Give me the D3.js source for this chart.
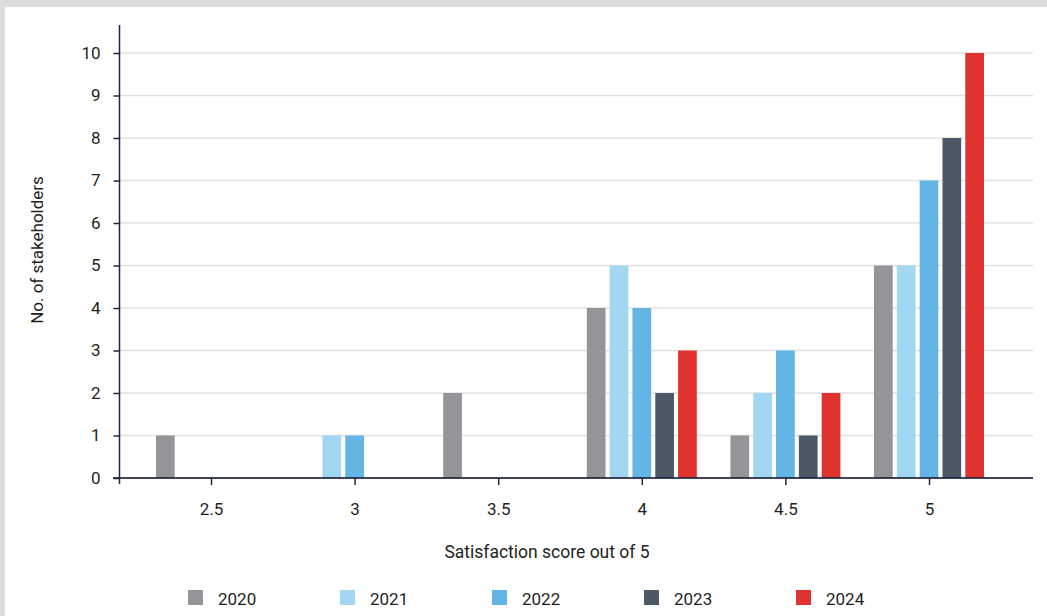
<!DOCTYPE html>
<html>
<head>
<meta charset="utf-8">
<script src="https://cdn.jsdelivr.net/npm/d3@7"></script>
<style>
  html, body { margin: 0; padding: 0; background: #fff; }
  svg { display: block; }
  text { font-family: Roboto, "Noto Sans", sans-serif; fill: #231f20; }
</style>
</head>
<body>
<svg id="chart" width="1047" height="616"></svg>
<script>
// Satisfaction scores (x categories) and stakeholder counts per year
const scores = ["2.5", "3", "3.5", "4", "4.5", "5"];
const years = ["2020", "2021", "2022", "2023", "2024"];
const counts2020 = [1, 0, 2, 4, 1, 5];
const counts2021 = [0, 1, 0, 5, 2, 5];
const counts2022 = [0, 1, 0, 4, 3, 7];
const counts2023 = [0, 0, 0, 2, 1, 8];
const counts2024 = [0, 0, 0, 3, 2, 10];
const yTicks = [0, 1, 2, 3, 4, 5, 6, 7, 8, 9, 10];
const colors = ["#949599", "#a3d6f3", "#62b5e4", "#4e5967", "#e0322f"];

const series = [counts2020, counts2021, counts2022, counts2023, counts2024];

const svg = d3.select("#chart");
const W = 1047, H = 616;

// Outer frame band (top and left)
svg.append("rect").attr("x", 0).attr("y", 0).attr("width", W).attr("height", 7).attr("fill", "#dcdcde");
svg.append("rect").attr("x", 0).attr("y", 0).attr("width", 5).attr("height", H).attr("fill", "#dcdcde");

const plotLeft = 120, plotRight = 1033, plotTop = 25, plotBottom = 478;

const y = d3.scaleLinear().domain([0, 10]).range([478, 53]);
const x = d3.scalePoint().domain(scores).range([211, 929]);
const inner = d3.scaleBand().domain(years).range([-55, 55]).paddingInner(0.18);

// Horizontal gridlines
svg.append("g")
  .selectAll("line")
  .data(yTicks.filter(d => d > 0))
  .join("line")
  .attr("x1", plotLeft).attr("x2", plotRight)
  .attr("y1", d => y(d)).attr("y2", d => y(d))
  .attr("stroke", "#e2e2e2").attr("stroke-width", 1.5);

// Bars
const groups = svg.append("g")
  .selectAll("g")
  .data(series)
  .join("g")
  .attr("fill", (d, i) => colors[i]);

groups.each(function (vals, si) {
  d3.select(this).selectAll("rect")
    .data(vals.map((v, ci) => ({ v, score: scores[ci] })).filter(d => d.v > 0))
    .join("rect")
    .attr("x", d => x(d.score) + inner(years[si]))
    .attr("width", inner.bandwidth())
    .attr("y", d => y(d.v))
    .attr("height", d => y(0) - y(d.v));
});

const axisColor = "#1e2440";

// Y axis
const yAxis = svg.append("g")
  .attr("transform", `translate(${plotLeft - 0.5},0)`)
  .call(d3.axisLeft(y).tickValues(yTicks).tickSize(6).tickPadding(13).tickFormat(d3.format("d")));
yAxis.select(".domain").remove();
yAxis.selectAll(".tick line").attr("stroke", axisColor).attr("stroke-width", 1.5);
yAxis.selectAll(".tick text").style("font-size", "17px").attr("fill", "#231f20");
svg.append("line")
  .attr("x1", plotLeft - 0.5).attr("x2", plotLeft - 0.5)
  .attr("y1", plotTop).attr("y2", plotBottom + 6)
  .attr("stroke", axisColor).attr("stroke-width", 1.5);

// X axis
const xAxis = svg.append("g")
  .attr("transform", `translate(0,${plotBottom})`)
  .call(d3.axisBottom(x).tickSize(7).tickPadding(18));
xAxis.select(".domain").remove();
xAxis.selectAll(".tick line").attr("stroke", axisColor).attr("stroke-width", 1.5);
xAxis.selectAll(".tick text").style("font-size", "17px").attr("fill", "#231f20");
svg.append("line")
  .attr("x1", plotLeft - 7).attr("x2", plotRight)
  .attr("y1", plotBottom).attr("y2", plotBottom)
  .attr("stroke", axisColor).attr("stroke-width", 2).attr("stroke-opacity", 0.85);

// Axis titles
svg.append("text")
  .attr("x", 547).attr("y", 558)
  .attr("text-anchor", "middle")
  .style("font-size", "17.5px")
  .text("Satisfaction score out of 5");

svg.append("text")
  .attr("transform", "translate(43,250) rotate(-90)")
  .attr("text-anchor", "middle")
  .style("font-size", "17px")
  .text("No. of stakeholders");

// Legend
const legend = svg.append("g")
  .selectAll("g")
  .data(years)
  .join("g")
  .attr("transform", (d, i) => `translate(${188 + i * 152},590)`);
legend.append("rect")
  .attr("width", 15).attr("height", 15)
  .attr("fill", (d, i) => colors[i]);
legend.append("text")
  .attr("x", 30).attr("y", 14.5)
  .style("font-size", "17px")
  .text(d => d);
</script>
</body>
</html>
